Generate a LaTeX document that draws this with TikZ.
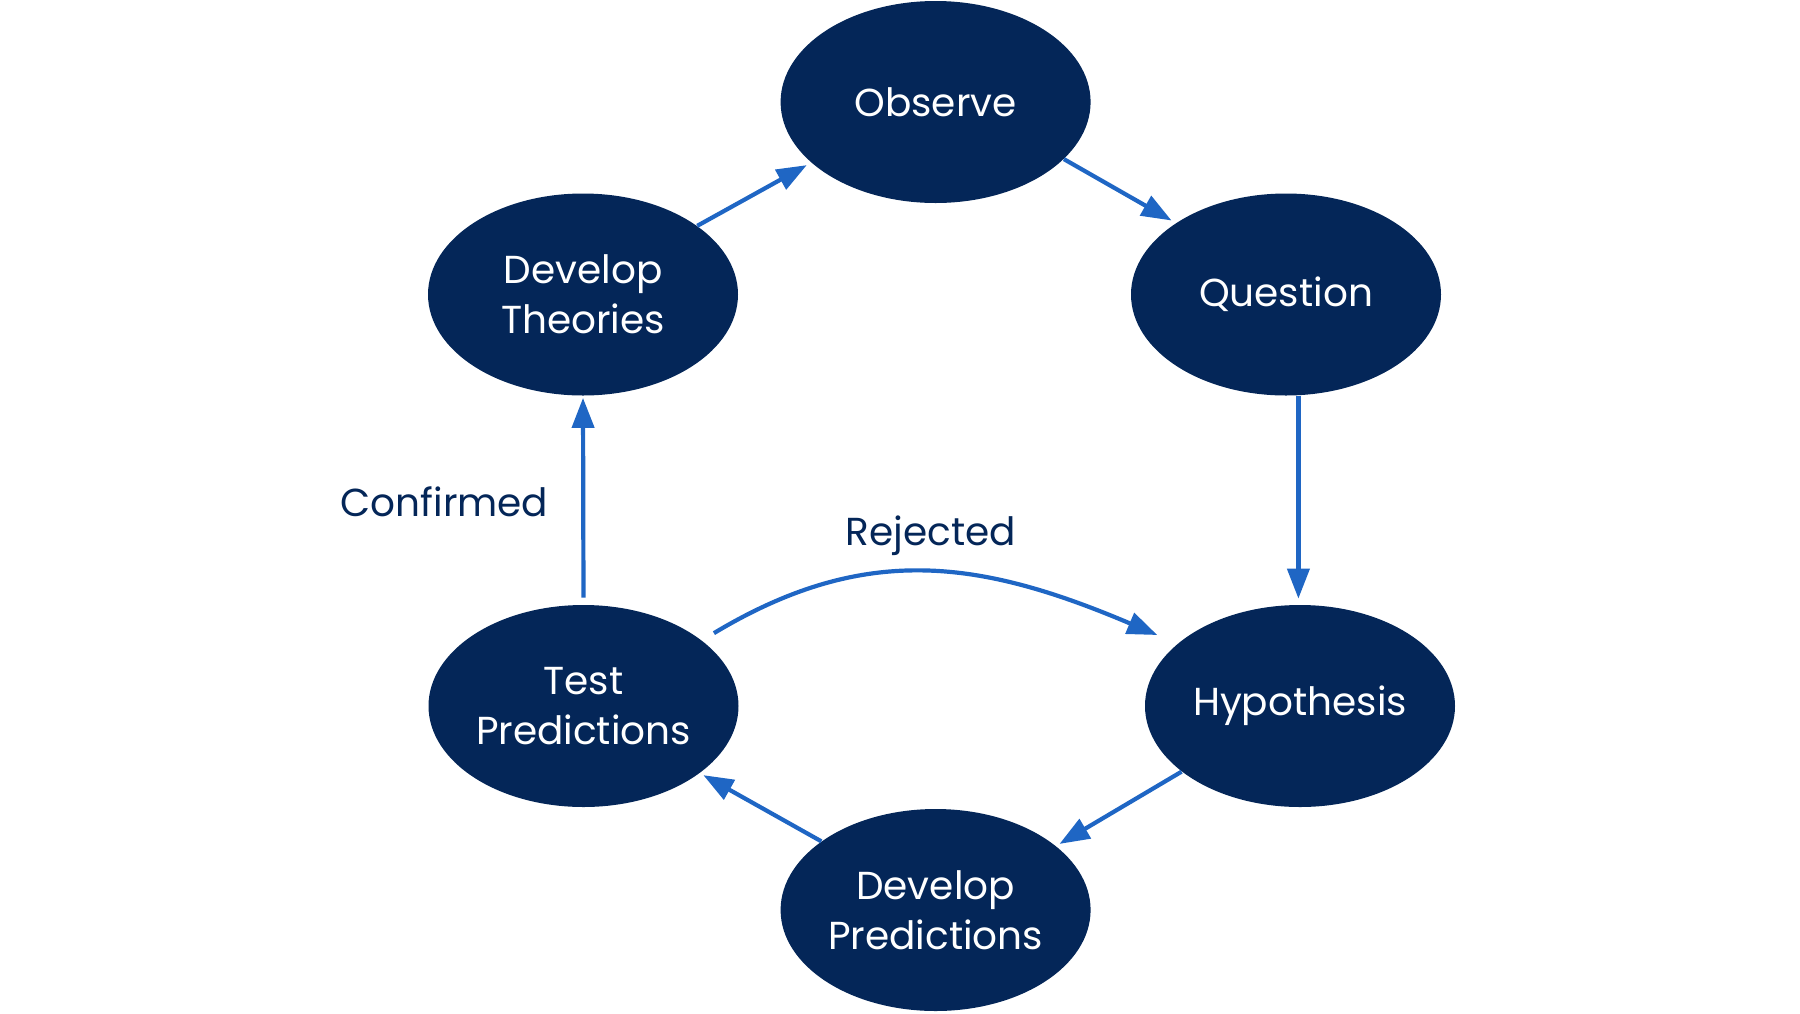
\documentclass[tikz,border=0pt]{standalone}
\usepackage{fontspec}
\setmainfont{Poppins}
\usetikzlibrary{shapes.geometric,arrows.meta}
\definecolor{navy}{HTML}{042658}
\definecolor{arrowblue}{HTML}{1F66C4}
\tikzset{
  stage/.style={ellipse, fill=navy, text=white, inner sep=0pt,
    minimum width=155pt, minimum height=101pt, align=center,
    font=\fontsize{19.5}{25}\selectfont},
  flow/.style={draw=arrowblue, line width=2.1pt,
    -{Triangle[length=15pt,width=11pt]}},
  lbl/.style={text=navy, font=\fontsize{19.5}{25}\selectfont}
}
\begin{document}
\begin{tikzpicture}[x=0.5pt,y=0.5pt]
\useasboundingbox (0,0) rectangle (1800,-1013);
\node[stage] (observe) at (935.6,-102) {Observe};
\node[stage] (question) at (1286,-294.5) {Question};
\node[stage] (theories) at (583,-294.5) {Develop\\Theories};
\node[stage] (hypothesis) at (1300,-706) {Hypothesis};
\node[stage] (test) at (583.5,-706) {Test\\Predictions};
\node[stage] (devpred) at (935.6,-910) {Develop\\Predictions};

\node[lbl] (confirmed) at (444.5,-502) {Confirmed};
\node[lbl] (rejected) at (931,-536) {Rejected};

\draw[flow, shorten >=2.5pt] (theories.31) -- (observe.206);
\draw[flow, shorten >=2.5pt] (observe.-24) -- (question.147);
\draw[flow, shorten >=3pt] (question.-83) -- (question.-83 |- hypothesis.north);
\draw[flow, shorten >=2pt] (hypothesis.209.5) -- (devpred.28);
\draw[flow, shorten >=2pt] (devpred.149.6) -- (test.-30);
\draw[flow, shorten <=3.5pt, shorten >=1pt] (test.north) -- (theories.south);
\draw[flow, shorten <=7pt, shorten >=11pt] (test.29) .. controls +(31:190) and +(157:215) .. (hypothesis.153.6);
\end{tikzpicture}
\end{document}
